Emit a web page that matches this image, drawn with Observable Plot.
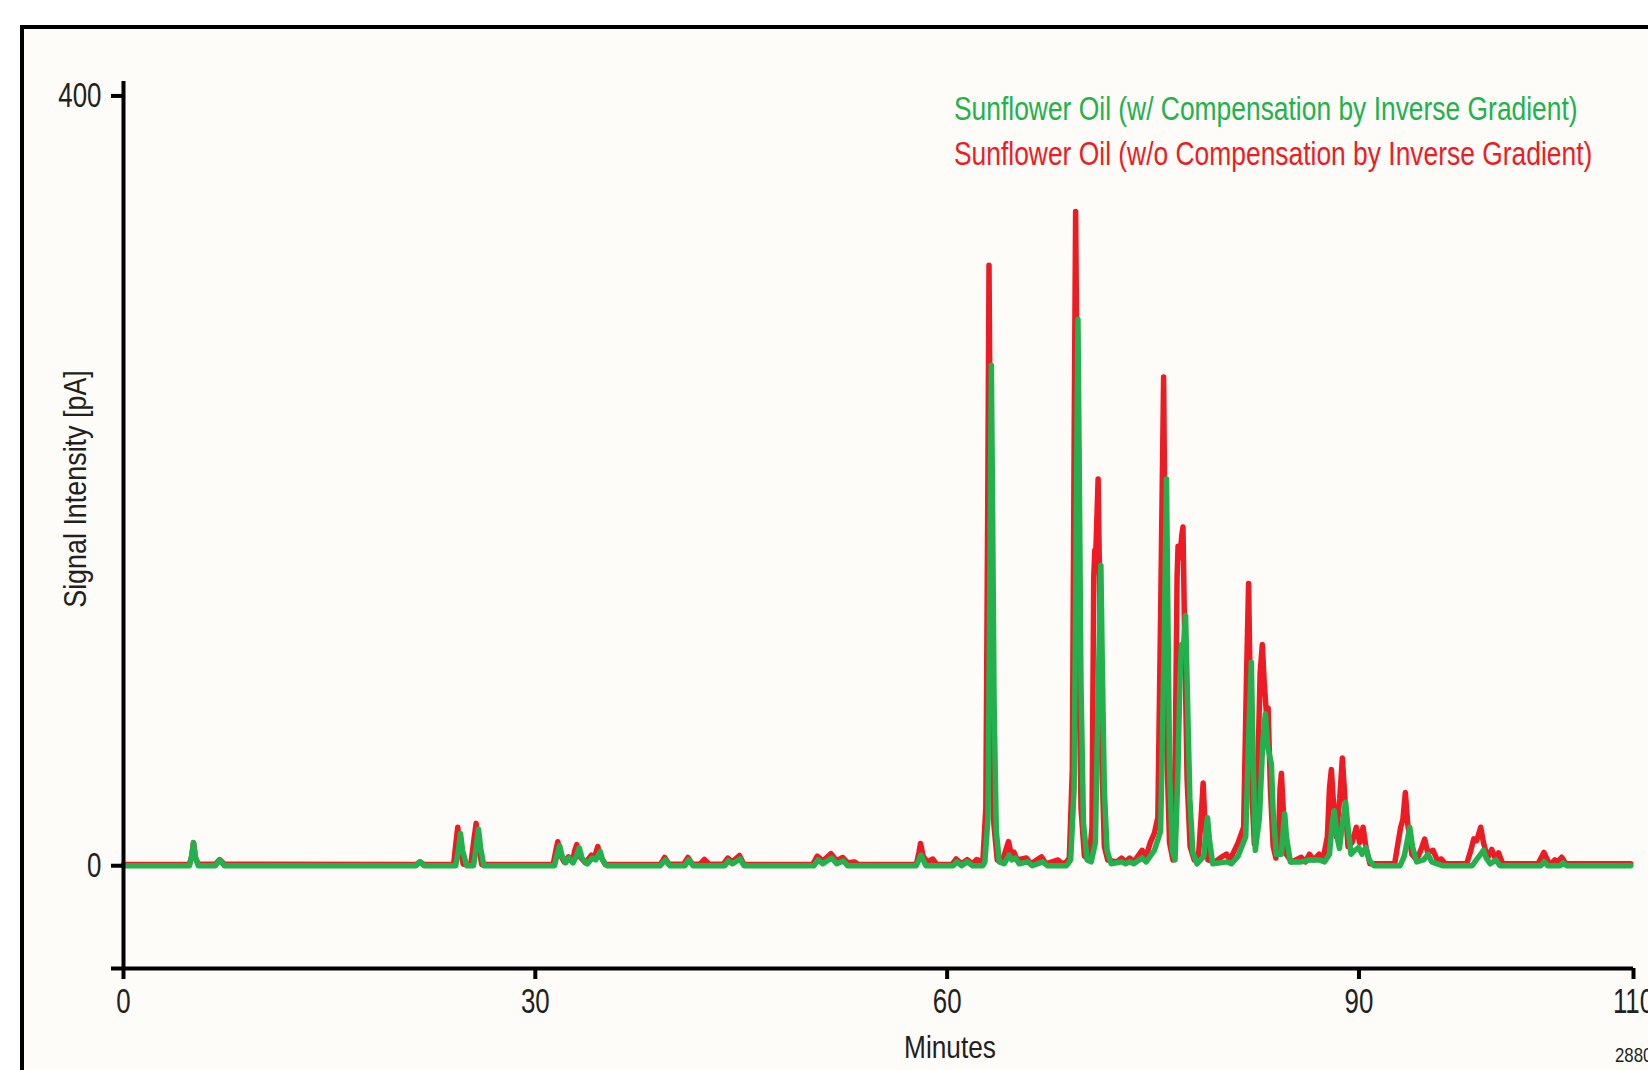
<!DOCTYPE html>
<html>
<head>
<meta charset="utf-8">
<script src="https://cdn.jsdelivr.net/npm/d3@7"></script>
<script src="https://cdn.jsdelivr.net/npm/@observablehq/plot@0.6"></script>
<style>
  html, body { margin: 0; padding: 0; background: #ffffff; }
  body { width: 1648px; height: 1070px; overflow: hidden; position: relative;
         font-family: "Liberation Sans", Arial, sans-serif; color: #231f20; }
  #frame { position: absolute; left: 20px; top: 25px; width: 1720px; height: 1120px;
           border: 4px solid #000; background: #fdfcf8; box-sizing: border-box; }
  #chart { position: absolute; left: 0; top: 0; }
  .txt { position: absolute; white-space: nowrap; line-height: 1; }
</style>
</head>
<body>
<div id="frame"></div>
<div id="chart"></div>
<div class="txt" style="left:954px; top:92px; font-size:33px; color:#22b14c; transform-origin: 0 0; transform: scaleX(0.8);">Sunflower Oil (w/ Compensation by Inverse Gradient)</div>
<div class="txt" style="left:954px; top:137px; font-size:33px; color:#ed1c24; transform-origin: 0 0; transform: scaleX(0.8);">Sunflower Oil (w/o Compensation by Inverse Gradient)</div>
<div class="txt" style="left:75px; top:489px; font-size:32px; transform: translate(-50%, -50%) rotate(-90deg) scaleX(0.84);">Signal Intensity [pA]</div>
<div class="txt" style="left:950px; top:1031px; font-size:32px; transform: translateX(-50%) scaleX(0.82);">Minutes</div>
<div class="txt" style="left:1615px; top:1044px; font-size:21px; transform-origin: 0 0; transform: scaleX(0.8);">2880</div>
<script>
// Tick values
const xTicks = [0, 30, 60, 90, 110];
const yTicks = [0, 400];

// Sunflower oil, without compensation by inverse gradient: [minutes, pA]
const withoutCompensation = [
  [0,0.6],[4.8,0.6],[4.97,5],[5.1,12],[5.25,4],[5.45,0.8],[6.7,0.8],[7.0,3.2],[7.35,0.8],
  [21.3,0.6],[21.6,2],[21.9,0.6],
  [24.05,0.6],[24.22,12],[24.35,20],[24.5,10],[24.75,0.8],[25.3,0.6],[25.5,12],[25.69,22],[25.85,11],[26.1,0.6],
  [31.3,0.6],[31.5,8],[31.64,12.5],[31.8,6],[32.1,2],[32.42,4.6],[32.7,2],[32.88,8],[33.02,11],[33.2,5],[33.65,1.5],
  [34.08,5.5],[34.3,4],[34.55,10],[34.75,5],[35.1,0.6],
  [39.1,0.6],[39.42,4.3],[39.75,0.8],[40.8,0.8],[41.12,4.3],[41.45,0.8],[42.0,0.8],[42.32,3.3],[42.65,0.8],
  [43.7,0.8],[44.02,4],[44.35,2],[44.87,5.3],[45.2,0.6],
  [50.2,0.6],[50.54,5],[50.95,2.5],[51.54,6.3],[51.95,2.5],[52.39,4.3],[52.75,1.5],[53.24,2],[53.55,0.6],
  [57.75,0.6],[57.95,7],[58.06,11.6],[58.25,5],[58.55,2],[58.96,3.5],[59.25,0.6],[60.35,0.6],[60.66,3.5],[61.05,1],
  [61.46,3.2],[61.85,1],[62.16,3.2],
  [62.6,2],[62.82,30],[62.96,190],[63.05,312],[63.13,225],[63.24,100],[63.4,22],[63.65,3],
  [64.0,2],[64.47,12.5],[64.67,6],[64.87,7],[65.1,3],[65.77,4],[66.1,1],[66.88,4.6],[67.2,1],[68.08,3],[68.4,1],[68.7,2],
  [68.9,4],[69.12,50],[69.26,230],[69.36,340],[69.45,260],[69.57,120],[69.75,30],[70.0,5],[70.35,3],
  [70.55,20],[70.68,150],[70.76,164],[70.84,165],[71.0,201],[71.1,150],[71.25,60],[71.45,10],[71.7,3],
  [72.35,2],[72.7,4],[73.0,2],[73.3,4],[73.6,2],[74.2,8],[74.5,5],[74.8,12],[75.1,17],
  [75.35,25],[75.55,130],[75.77,254],[75.87,170],[76.0,60],[76.2,12],[76.45,3],
  [76.62,60],[76.75,150],[76.82,166],[76.95,160],[77.1,172],[77.18,176],[77.3,120],[77.48,45],[77.7,10],[78.0,3],
  [78.3,4],[78.5,25],[78.65,43],[78.78,22],[79.0,3],[79.5,2],[80.1,5],[80.35,6],[80.6,3],[81.2,12],
  [81.6,20],[81.8,95],[81.96,146.6],[82.08,90],[82.22,35],[82.38,11.4],
  [82.6,40],[82.8,100],[82.96,115],[83.1,95],[83.25,80],[83.38,82],[83.55,40],[83.75,10],[83.95,4],
  [84.15,15],[84.25,40],[84.35,48],[84.48,30],[84.7,6],[85.1,2],[85.8,4.4],[86.1,2],[86.39,6],[86.7,3],[87.1,6],[87.4,4],
  [87.7,15],[87.85,40],[87.99,50],[88.12,35],[88.35,15],[88.6,35],[88.79,56],[88.93,40],[89.2,10],
  [89.5,12],[89.81,20],[90.05,12],[90.3,20],[90.5,10],[90.8,1],
  [92.6,1],[92.85,12],[93.04,20],[93.2,24],[93.38,38],[93.55,22],[93.85,6],[94.2,3],[94.5,8],[94.79,13.9],
  [95.0,7],[95.4,8],[95.7,3],[96.0,3.5],[96.3,1],
  [97.85,1],[98.15,8],[98.37,14],[98.57,13],[98.87,20],[99.07,12],[99.37,4],[99.67,8.5],[99.92,4],[100.17,6.7],[100.47,1],
  [103.05,1],[103.47,6.9],[103.87,1],[104.07,1.5],[104.27,3],[104.47,2],[104.77,4.4],[105.07,1],[109.8,1]
];

// Sunflower oil, with compensation by inverse gradient: [minutes, pA]
const withCompensation = [
  [0,0],[4.8,0],[4.97,5],[5.1,12],[5.25,4],[5.45,0],[6.7,0],[7.0,3],[7.35,0],
  [21.3,0],[21.6,2],[21.9,0],
  [24.2,0],[24.4,8],[24.55,16.7],[24.7,8],[25.0,0],[25.5,0],[25.68,9],[25.86,19],[26.02,9],[26.25,0],
  [31.4,0],[31.6,6],[31.77,10.4],[31.95,5],[32.2,1.5],[32.45,4],[32.75,1.5],[33.0,5],[33.2,9.3],[33.4,4],[33.8,1],
  [34.15,4],[34.4,3],[34.73,7.4],[34.9,3],[35.2,0],
  [39.1,0],[39.47,3],[39.8,0],[40.9,0],[41.17,3],[41.5,0],[43.8,0],[44.07,2.5],[44.35,1],[44.92,3.5],[45.2,0],
  [50.3,0],[50.59,3],[50.95,1],[51.59,4],[51.95,1],[52.44,2.5],[52.75,0],
  [57.75,0],[58.1,5.5],[58.45,0],[60.45,0],[60.71,2],[61.05,0],[61.46,2],[61.85,0],[62.6,0],
  [62.75,2],[62.98,25],[63.12,160],[63.22,260],[63.3,195],[63.42,85],[63.58,18],[63.8,2],
  [64.15,1],[64.52,5.5],[64.72,3],[64.97,4],[65.25,1],[65.87,2],[66.2,0],[66.97,2],[67.3,0],[68.7,0],
  [69.0,3],[69.25,40],[69.42,190],[69.53,284],[69.62,210],[69.75,95],[69.93,22],[70.2,3],[70.5,2],
  [70.8,12],[71.03,100],[71.2,156],[71.3,105],[71.45,40],[71.65,8],[71.95,1],
  [72.7,2],[73.0,1],[73.3,2],[73.6,1],[74.2,4],[74.5,2],[75.1,8],
  [75.55,18],[75.8,110],[75.98,201],[76.08,130],[76.22,45],[76.4,8],[76.6,3],
  [76.8,45],[76.95,95],[77.07,115],[77.2,112],[77.37,130],[77.5,90],[77.68,35],[77.9,7],[78.2,1],
  [78.7,5],[78.85,18],[78.97,25],[79.1,14],[79.35,1],[80.4,2],[80.7,1],[81.2,5],
  [81.75,15],[81.98,70],[82.16,105.7],[82.28,60],[82.45,8],
  [82.75,25],[83.0,65],[83.18,79],[83.35,62],[83.62,53],[83.75,28],[83.98,6],
  [84.35,6],[84.5,20],[84.59,27],[84.72,15],[85.0,2],[85.8,2],[86.4,3],[87.1,3],[87.5,2],
  [87.85,6],[88.05,22],[88.21,28.6],[88.38,16],[88.58,9],[88.8,22],[89.03,33],[89.17,22],[89.42,6],
  [89.7,8],[89.98,9.5],[90.23,6],[90.49,9.5],[90.75,3],[91.1,0],
  [93.0,0],[93.3,5],[93.52,13],[93.7,20],[93.9,10],[94.2,2],[94.7,3],[95.03,6],[95.3,2],[95.7,1],[96.1,0],
  [98.25,0],[98.55,3],[98.87,6],[99.07,8],[99.27,4],[99.57,1],[99.97,3],[100.27,0],
  [103.25,0],[103.5,2],[103.75,0],[104.65,0],[104.87,1.5],[105.15,0],[109.8,0]
];

const yMin = -53.4, yMax = 407.5;

const chart = Plot.plot({
  width: 1648,
  height: 1070,
  marginLeft: 123,
  marginRight: 15,
  marginTop: 81,
  marginBottom: 102,
  x: {domain: [0, 110]},
  y: {domain: [yMin, yMax]},
  style: {
    background: "transparent",
    fontFamily: "'Liberation Sans', Arial, sans-serif",
    fontSize: "35px",
    color: "#231f20",
    overflow: "visible"
  },
  marks: [
    Plot.line(withoutCompensation, {x: d => d[0], y: d => d[1], stroke: "#ed1c24", strokeWidth: 5.5, strokeLinejoin: "round", strokeLinecap: "round"}),
    Plot.line(withCompensation, {x: d => d[0], y: d => d[1], stroke: "#22b14c", strokeWidth: 5.5, strokeLinejoin: "round", strokeLinecap: "round"}),
    Plot.ruleX([0], {stroke: "#000", strokeWidth: 4}),
    Plot.ruleY([yMin], {stroke: "#000", strokeWidth: 4}),
    Plot.axisY({ticks: yTicks, tickSize: 12, tickPadding: 10, strokeWidth: 4, stroke: "#000", label: null, fill: "#231f20"}),
    Plot.axisY({ticks: [yMin], tickSize: 12, strokeWidth: 4, stroke: "#000", tickFormat: () => "", label: null}),
    Plot.axisX({ticks: xTicks, tickSize: 11, tickPadding: 9, strokeWidth: 4, stroke: "#000", label: null, fill: "#231f20"})
  ]
});

// Condense the tick label glyphs horizontally (the original uses a condensed face)
chart.querySelectorAll('g[aria-label="x-axis tick label"] text, g[aria-label="y-axis tick label"] text').forEach(t => {
  const tr = t.getAttribute("transform") || "";
  t.setAttribute("transform", `${tr} scale(0.74,1)`);
});

document.getElementById("chart").appendChild(chart);
</script>
</body>
</html>
